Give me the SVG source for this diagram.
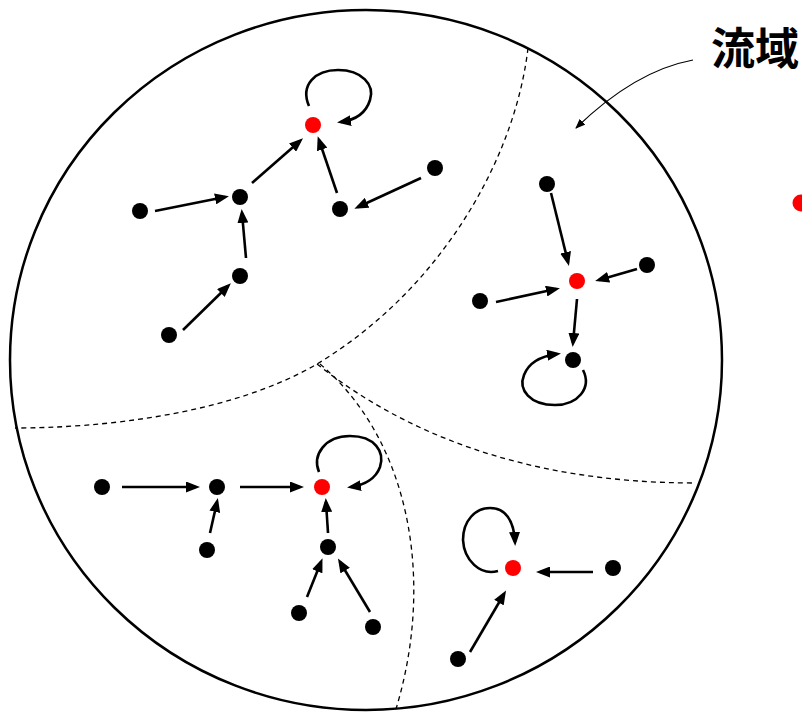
<svg xmlns="http://www.w3.org/2000/svg" width="802" height="712" viewBox="0 0 802 712">
<style>
.n{fill:#000}
.r{fill:#ff0000}
.e{fill:none;stroke:#000;stroke-width:2.6;marker-end:url(#ah)}
.d{fill:none;stroke:#000;stroke-width:1.3;stroke-dasharray:5,4}
</style>
<defs>
<marker id="ah" viewBox="0 0 14 11" refX="10" refY="5.5" markerWidth="14" markerHeight="11" markerUnits="userSpaceOnUse" orient="auto">
<path d="M0,0 L14,5.5 L0,11 z" fill="#000"/>
</marker>
<marker id="ah2" viewBox="0 0 10 8" refX="9" refY="4" markerWidth="10" markerHeight="8" markerUnits="userSpaceOnUse" orient="auto">
<path d="M0,0 L10,4 L0,8 z" fill="#000"/>
</marker>
</defs>
<rect width="802" height="712" fill="#fff"/>
<g id="basin">
<ellipse cx="366" cy="360" rx="356" ry="350" fill="none" stroke="#000" stroke-width="2.5"/>
</g>
<g id="dividers">
<path class="d" d="M528,48 C515,160 440,290 317,364 C230,415 100,428 15,428"/>
<path class="d" d="M317,364 C400,430 520,483 696,483"/>
<path class="d" d="M320,364 C410,440 435,580 396,709"/>
</g>
<g id="label">
<text x="711" y="65" font-family="'Noto Sans CJK JP','Noto Sans CJK SC',sans-serif" font-size="44" font-weight="bold" fill="#000">流域</text>
<path d="M693,60 C650,68 610,95 576,128" fill="none" stroke="#000" stroke-width="1.2" marker-end="url(#ah2)"/>
</g>
<g id="connectors">
<path class="e" d="M155,211 L225,197"/>
<path class="e" d="M246,258 L242,213"/>
<path class="e" d="M183,330 L228,286"/>
<path class="e" d="M252,183 L300,141"/>
<path class="e" d="M337,193 L319,140"/>
<path class="e" d="M421,178 L358,207"/>
<path class="e" d="M309,106 C300,85 315,70 338,70 C362,70 375,85 370,100 C366,113 355,120 341,122"/>
<path class="e" d="M551,193 L568,262"/>
<path class="e" d="M637,269 L599,280"/>
<path class="e" d="M496,302 L556,289"/>
<path class="e" d="M577,299 L573,343"/>
<path class="e" d="M583,370 C592,388 578,405 555,405 C530,405 518,390 524,375 C529,362 542,356 557,354"/>
<path class="e" d="M122,487 L196,487"/>
<path class="e" d="M240,487 L300,487"/>
<path class="e" d="M210,533 L217,502"/>
<path class="e" d="M328,533 L326,502"/>
<path class="e" d="M307,597 L321,562"/>
<path class="e" d="M370,612 L340,562"/>
<path class="e" d="M319,472 C312,455 325,436 350,436 C375,436 385,452 380,467 C376,478 365,485 351,487"/>
<path class="e" d="M593,572 L540,572"/>
<path class="e" d="M470,652 L504,594"/>
<path class="e" d="M498,571 C480,576 464,560 463,540 C463,520 476,508 490,508 C505,508 514,520 515,542"/>
</g>
<g id="n1"><circle class="r" cx="313" cy="125" r="8"/></g>
<g id="n2"><circle class="n" cx="240" cy="197" r="8"/></g>
<g id="n3"><circle class="n" cx="140" cy="211" r="8"/></g>
<g id="n4"><circle class="n" cx="340" cy="209" r="8"/></g>
<g id="n5"><circle class="n" cx="435" cy="168" r="8"/></g>
<g id="n6"><circle class="n" cx="240" cy="276" r="8"/></g>
<g id="n7"><circle class="n" cx="169" cy="335" r="8"/></g>
<g id="n8"><circle class="r" cx="577" cy="281" r="8"/></g>
<g id="n9"><circle class="n" cx="547" cy="184" r="8"/></g>
<g id="n10"><circle class="n" cx="647" cy="265" r="8"/></g>
<g id="n11"><circle class="n" cx="480" cy="301" r="8"/></g>
<g id="n12"><circle class="n" cx="573" cy="360" r="8"/></g>
<g id="n13"><circle class="n" cx="102" cy="487" r="8"/></g>
<g id="n14"><circle class="n" cx="217" cy="487" r="8"/></g>
<g id="n15"><circle class="r" cx="322" cy="487" r="8"/></g>
<g id="n16"><circle class="n" cx="207" cy="550" r="8"/></g>
<g id="n17"><circle class="n" cx="328" cy="547" r="8"/></g>
<g id="n18"><circle class="n" cx="299" cy="613" r="8"/></g>
<g id="n19"><circle class="n" cx="373" cy="627" r="8"/></g>
<g id="n20"><circle class="r" cx="513" cy="568" r="8"/></g>
<g id="n21"><circle class="n" cx="613" cy="568" r="8"/></g>
<g id="n22"><circle class="n" cx="458" cy="659" r="8"/></g>
<g id="n23"><circle class="r" cx="801" cy="203" r="8.5"/></g>
</svg>
